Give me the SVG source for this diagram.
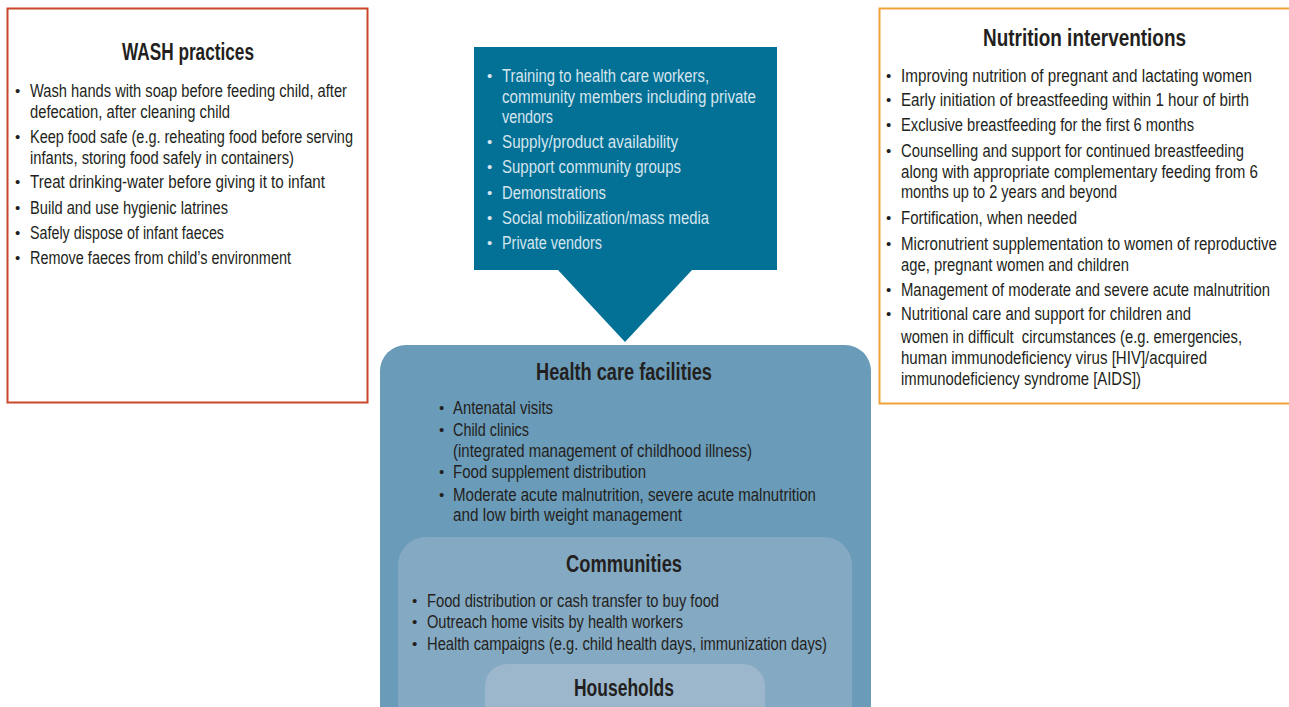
<svg xmlns="http://www.w3.org/2000/svg" width="1289" height="707" viewBox="0 0 1289 707">
<style>
text{font-family:"Liberation Sans",Arial,sans-serif}
.t{font-size:23px;font-weight:bold;fill:#231f20}
.b{font-size:17.5px;fill:#231f20}
.w{font-size:17.5px;fill:#d6e5ee}
.d{font-size:15px}
</style>
<rect width="1289" height="707" fill="#ffffff"/>
<g id="wash">
<rect x="7.5" y="8.5" width="360" height="394" fill="#fff" stroke="#c9472b" stroke-width="2"/>
<text class="t" x="122" y="60" textLength="132" lengthAdjust="spacingAndGlyphs">WASH practices</text>
<g class="b">
<text class="d" x="15" y="96">•</text><text x="30" y="97" textLength="317" lengthAdjust="spacingAndGlyphs">Wash hands with soap before feeding child, after</text>
<text x="30" y="118" textLength="200" lengthAdjust="spacingAndGlyphs">defecation, after cleaning child</text>
<text class="d" x="15" y="142">•</text><text x="30" y="143" textLength="323" lengthAdjust="spacingAndGlyphs">Keep food safe (e.g. reheating food before serving</text>
<text x="30" y="164" textLength="264" lengthAdjust="spacingAndGlyphs">infants, storing food safely in containers)</text>
<text class="d" x="15" y="187">•</text><text x="30" y="188" textLength="295" lengthAdjust="spacingAndGlyphs">Treat drinking-water before giving it to infant</text>
<text class="d" x="15" y="213">•</text><text x="30" y="214" textLength="198" lengthAdjust="spacingAndGlyphs">Build and use hygienic latrines</text>
<text class="d" x="15" y="238">•</text><text x="30" y="239" textLength="194" lengthAdjust="spacingAndGlyphs">Safely dispose of infant faeces</text>
<text class="d" x="15" y="263">•</text><text x="30" y="264" textLength="261" lengthAdjust="spacingAndGlyphs">Remove faeces from child’s environment</text>
</g>
</g>
<g id="nutrition">
<rect x="880" y="9" width="409" height="394" fill="#fff"/>
<path d="M1289 8.5H879.5V403.5H1289" fill="none" stroke="#f0a23a" stroke-width="2"/>
<text class="t" x="983" y="46" textLength="203" lengthAdjust="spacingAndGlyphs">Nutrition interventions</text>
<g class="b">
<text class="d" x="886" y="81">•</text><text x="901" y="82" textLength="351" lengthAdjust="spacingAndGlyphs">Improving nutrition of pregnant and lactating women</text>
<text class="d" x="886" y="105">•</text><text x="901" y="106" textLength="348" lengthAdjust="spacingAndGlyphs">Early initiation of breastfeeding within 1 hour of birth</text>
<text class="d" x="886" y="130">•</text><text x="901" y="131" textLength="293" lengthAdjust="spacingAndGlyphs">Exclusive breastfeeding for the first 6 months</text>
<text class="d" x="886" y="156">•</text><text x="901" y="157" textLength="343" lengthAdjust="spacingAndGlyphs">Counselling and support for continued breastfeeding</text>
<text x="901" y="178" textLength="357" lengthAdjust="spacingAndGlyphs">along with appropriate complementary feeding from 6</text>
<text x="901" y="198" textLength="216" lengthAdjust="spacingAndGlyphs">months up to 2 years and beyond</text>
<text class="d" x="886" y="223">•</text><text x="901" y="224" textLength="176" lengthAdjust="spacingAndGlyphs">Fortification, when needed</text>
<text class="d" x="886" y="249">•</text><text x="901" y="250" textLength="376" lengthAdjust="spacingAndGlyphs">Micronutrient supplementation to women of reproductive</text>
<text x="901" y="271" textLength="228" lengthAdjust="spacingAndGlyphs">age, pregnant women and children</text>
<text class="d" x="886" y="295">•</text><text x="901" y="296" textLength="369" lengthAdjust="spacingAndGlyphs">Management of moderate and severe acute malnutrition</text>
<text class="d" x="886" y="319">•</text><text x="901" y="320" textLength="290" lengthAdjust="spacingAndGlyphs">Nutritional care and support for children and</text>
<text x="901" y="343" textLength="341" lengthAdjust="spacingAndGlyphs" style="white-space:pre">women in difficult  circumstances (e.g. emergencies,</text>
<text x="901" y="364" textLength="306" lengthAdjust="spacingAndGlyphs">human immunodeficiency virus [HIV]/acquired</text>
<text x="901" y="385" textLength="240" lengthAdjust="spacingAndGlyphs">immunodeficiency syndrome [AIDS])</text>
</g>
</g>
<g id="health-care-facilities">
<rect x="380" y="345" width="491" height="390" rx="26" fill="#6a9bb8"/>
<text class="t" x="536" y="380" textLength="176" lengthAdjust="spacingAndGlyphs">Health care facilities</text>
<g class="b">
<text class="d" x="439" y="413">•</text><text x="453" y="414" textLength="100" lengthAdjust="spacingAndGlyphs">Antenatal visits</text>
<text class="d" x="439" y="435">•</text><text x="453" y="436" textLength="76" lengthAdjust="spacingAndGlyphs">Child clinics</text>
<text x="453" y="457" textLength="299" lengthAdjust="spacingAndGlyphs">(integrated management of childhood illness)</text>
<text class="d" x="439" y="477">•</text><text x="453" y="478" textLength="193" lengthAdjust="spacingAndGlyphs">Food supplement distribution</text>
<text class="d" x="439" y="500">•</text><text x="453" y="501" textLength="363" lengthAdjust="spacingAndGlyphs">Moderate acute malnutrition, severe acute malnutrition</text>
<text x="453" y="521" textLength="229" lengthAdjust="spacingAndGlyphs">and low birth weight management</text>
</g>
</g>
<g id="communities">
<rect x="398" y="537" width="454" height="200" rx="28" fill="#84a9c2"/>
<text class="t" x="566" y="572" textLength="116" lengthAdjust="spacingAndGlyphs">Communities</text>
<g class="b">
<text class="d" x="412" y="606">•</text><text x="427" y="607" textLength="292" lengthAdjust="spacingAndGlyphs">Food distribution or cash transfer to buy food</text>
<text class="d" x="412" y="627">•</text><text x="427" y="628" textLength="256" lengthAdjust="spacingAndGlyphs">Outreach home visits by health workers</text>
<text class="d" x="412" y="649">•</text><text x="427" y="650" textLength="400" lengthAdjust="spacingAndGlyphs">Health campaigns (e.g. child health days, immunization days)</text>
</g>
</g>
<g id="households">
<rect x="485" y="664" width="280" height="80" rx="22" fill="#9cb7cc"/>
<text class="t" x="574" y="696" textLength="100" lengthAdjust="spacingAndGlyphs">Households</text>
</g>
<g id="connectors">
<path d="M474 47H777V270H692L625 342L558 270H474Z" fill="#037196"/>
</g>
<g id="enablers" class="w">
<text class="d" x="487" y="81">•</text><text x="502" y="82" textLength="207" lengthAdjust="spacingAndGlyphs">Training to health care workers,</text>
<text x="502" y="103" textLength="254" lengthAdjust="spacingAndGlyphs">community members including private</text>
<text x="502" y="123" textLength="51" lengthAdjust="spacingAndGlyphs">vendors</text>
<text class="d" x="487" y="147">•</text><text x="502" y="148" textLength="176" lengthAdjust="spacingAndGlyphs">Supply/product availability</text>
<text class="d" x="487" y="172">•</text><text x="502" y="173" textLength="179" lengthAdjust="spacingAndGlyphs">Support community groups</text>
<text class="d" x="487" y="198">•</text><text x="502" y="199" textLength="104" lengthAdjust="spacingAndGlyphs">Demonstrations</text>
<text class="d" x="487" y="223">•</text><text x="502" y="224" textLength="207" lengthAdjust="spacingAndGlyphs">Social mobilization/mass media</text>
<text class="d" x="487" y="248">•</text><text x="502" y="249" textLength="100" lengthAdjust="spacingAndGlyphs">Private vendors</text>
</g>
</svg>
